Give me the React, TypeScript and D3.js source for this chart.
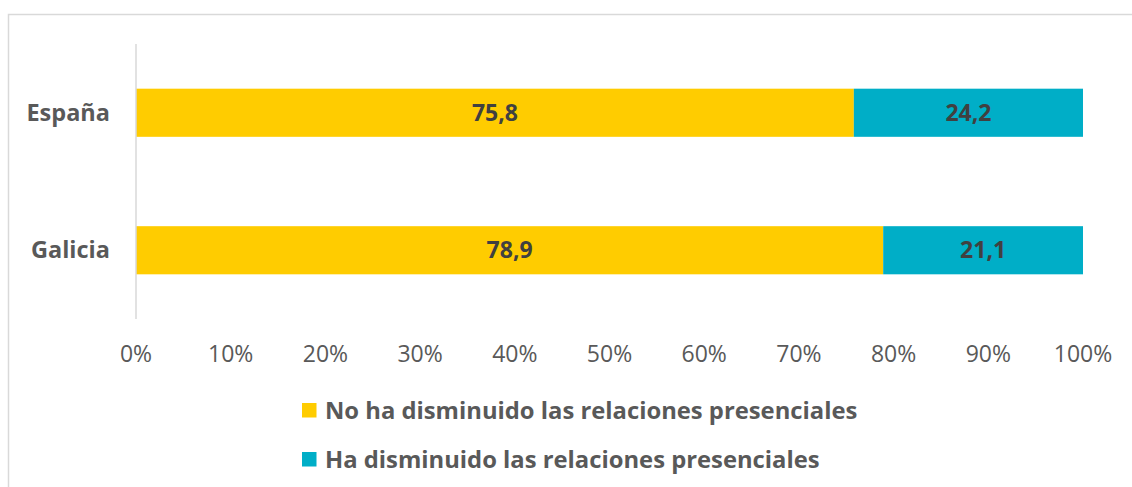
import React from "react";
import * as d3 from "d3";

const categories = ["España", "Galicia"];
const seriesNames = [
  "No ha disminuido las relaciones presenciales",
  "Ha disminuido las relaciones presenciales",
];
const noDisminuido = [75.8, 78.9];
const disminuido = [24.2, 21.1];
const xTicks = [0, 10, 20, 30, 40, 50, 60, 70, 80, 90, 100];
const colors = ["#FFCC00", "#00AEC7"];

export default function App() {
  const W = 1132;
  const H = 487;
  const x = d3.scaleLinear().domain([0, 100]).range([136, 1083]);
  const y = d3
    .scaleBand<string>()
    .domain(categories)
    .range([44, 319])
    .paddingInner(0.65)
    .paddingOuter(0.325);
  const rows = categories.map((c, i) => ({ c, vals: [noDisminuido[i], disminuido[i]] }));
  const stack = d3.stack<any>().keys(["0", "1"]).value((d: any, k: string) => d.vals[+k]);
  const stacked = stack(rows as any);
  const font = "'Open Sans', sans-serif";
  const fmt = (v: number) => v.toFixed(1).replace(".", ",");

  return (
    <svg
      width={W}
      height={H}
      style={{ position: "absolute", left: 0, top: 0, background: "#fff" }}
      fontFamily={font}
    >
      <rect x={8.5} y={14.5} width={1300} height={600} fill="#fff" stroke="#d9d9d9" strokeWidth={1.5} />
      {stacked.map((s, si) =>
        s.map((d, i) => (
          <g key={`${si}-${i}`}>
            <rect
              x={x(d[0])}
              y={y(categories[i])!}
              width={x(d[1]) - x(d[0])}
              height={y.bandwidth()}
              fill={colors[si]}
            />
            <text
              x={(x(d[0]) + x(d[1])) / 2}
              y={y(categories[i])! + y.bandwidth() / 2}
              dy="0.35em"
              textAnchor="middle"
              fontWeight="bold"
              fontSize={23}
              fill="#404040"
            >
              {fmt(d[1] - d[0])}
            </text>
          </g>
        ))
      )}
      <line x1={136} x2={136} y1={44} y2={319} stroke="#d9d9d9" strokeWidth={1.5} />
      {categories.map((c) => (
        <text
          key={c}
          x={110}
          y={y(c)! + y.bandwidth() / 2}
          dy="0.35em"
          textAnchor="end"
          fontWeight="bold"
          fontSize={23.5}
          fill="#595959"
        >
          {c}
        </text>
      ))}
      {xTicks.map((t) => (
        <text key={t} x={x(t)} y={362} textAnchor="middle" fontSize={23} fill="#595959">
          {t}%
        </text>
      ))}
      {seriesNames.map((n, i) => (
        <g key={n} transform={`translate(302, ${403 + i * 49})`}>
          <rect width={14.5} height={14.5} fill={colors[i]} />
          <text x={23} y={7.25} dy="0.35em" fontWeight="bold" fontSize={23.8} fill="#595959">
            {n}
          </text>
        </g>
      ))}
    </svg>
  );
}
